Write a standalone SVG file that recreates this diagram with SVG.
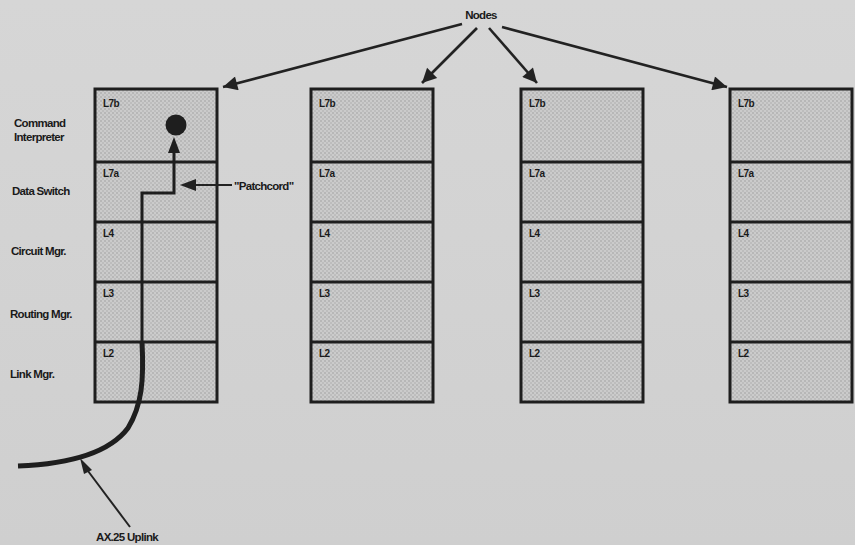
<svg xmlns="http://www.w3.org/2000/svg" width="855" height="545" viewBox="0 0 855 545">
<defs>
<pattern id="dots" width="4" height="4" patternUnits="userSpaceOnUse">
<rect width="4" height="4" fill="#cbcbcb"/>
<circle cx="1" cy="1" r="0.7" fill="#959595"/>
<circle cx="3" cy="3" r="0.7" fill="#a4a4a4"/>
</pattern>
<linearGradient id="bg" x1="0" y1="0" x2="0" y2="1">
<stop offset="0" stop-color="#d6d6d6"/>
<stop offset="1" stop-color="#cfcfcf"/>
</linearGradient>
<marker id="ah" viewBox="0 0 10 10" refX="10" refY="5" markerWidth="6" markerHeight="5.5" orient="auto" markerUnits="strokeWidth">
<path d="M0,0 L10,5 L0,10 z" fill="#222"/>
</marker>
</defs>
<style>
.box{fill:url(#dots);stroke:#1e1e1e;stroke-width:3}
.div{stroke:#1e1e1e;stroke-width:3}
.lay{font-family:"Liberation Sans",Arial,sans-serif;font-size:10px;font-weight:bold;fill:#1a1a1a;letter-spacing:-0.6px}
.lbl{font-family:"Liberation Sans",Arial,sans-serif;font-size:11.5px;font-weight:bold;fill:#1a1a1a;letter-spacing:-0.7px}
.arr{stroke:#222;stroke-width:2.6;fill:none;marker-end:url(#ah)}
</style>
<rect width="855" height="545" fill="url(#bg)"/>

<g id="labels">
<text class="lbl" x="14" y="127">Command</text>
<text class="lbl" x="14" y="141">Interpreter</text>
<text class="lbl" x="12" y="195">Data Switch</text>
<text class="lbl" x="11" y="255">Circuit Mgr.</text>
<text class="lbl" x="10" y="318">Routing Mgr.</text>
<text class="lbl" x="10" y="378">Link Mgr.</text>
<text class="lbl" x="481" y="19" text-anchor="middle">Nodes</text>
<text class="lbl" x="234" y="190">"Patchcord"</text>
<text class="lbl" x="127" y="541" text-anchor="middle">AX.25 Uplink</text>
</g>

<g id="node1">
<rect class="box" x="95" y="89" width="122" height="313"/>
<line class="div" x1="95" y1="162" x2="217" y2="162"/>
<line class="div" x1="95" y1="222" x2="217" y2="222"/>
<line class="div" x1="95" y1="282" x2="217" y2="282"/>
<line class="div" x1="95" y1="342" x2="217" y2="342"/>
<text class="lay" x="103" y="107">L7b</text>
<text class="lay" x="103" y="177">L7a</text>
<text class="lay" x="103" y="237">L4</text>
<text class="lay" x="103" y="297">L3</text>
<text class="lay" x="103" y="357">L2</text>
</g>

<g id="node2">
<rect class="box" x="311" y="89" width="122" height="313"/>
<line class="div" x1="311" y1="162" x2="433" y2="162"/>
<line class="div" x1="311" y1="222" x2="433" y2="222"/>
<line class="div" x1="311" y1="282" x2="433" y2="282"/>
<line class="div" x1="311" y1="342" x2="433" y2="342"/>
<text class="lay" x="319" y="107">L7b</text>
<text class="lay" x="319" y="177">L7a</text>
<text class="lay" x="319" y="237">L4</text>
<text class="lay" x="319" y="297">L3</text>
<text class="lay" x="319" y="357">L2</text>
</g>

<g id="node3">
<rect class="box" x="521" y="89" width="122" height="313"/>
<line class="div" x1="521" y1="162" x2="643" y2="162"/>
<line class="div" x1="521" y1="222" x2="643" y2="222"/>
<line class="div" x1="521" y1="282" x2="643" y2="282"/>
<line class="div" x1="521" y1="342" x2="643" y2="342"/>
<text class="lay" x="529" y="107">L7b</text>
<text class="lay" x="529" y="177">L7a</text>
<text class="lay" x="529" y="237">L4</text>
<text class="lay" x="529" y="297">L3</text>
<text class="lay" x="529" y="357">L2</text>
</g>

<g id="node4">
<rect class="box" x="730" y="89" width="122" height="313"/>
<line class="div" x1="730" y1="162" x2="852" y2="162"/>
<line class="div" x1="730" y1="222" x2="852" y2="222"/>
<line class="div" x1="730" y1="282" x2="852" y2="282"/>
<line class="div" x1="730" y1="342" x2="852" y2="342"/>
<text class="lay" x="738" y="107">L7b</text>
<text class="lay" x="738" y="177">L7a</text>
<text class="lay" x="738" y="237">L4</text>
<text class="lay" x="738" y="297">L3</text>
<text class="lay" x="738" y="357">L2</text>
</g>

<g id="connectors">
<path class="arr" d="M462,24 L223,87"/>
<path class="arr" d="M477,28 L422,83"/>
<path class="arr" d="M489,28 L537,83"/>
<path class="arr" d="M502,27 L727,87"/>
<path d="M142,342 L142,193 L174,193 L174,150" fill="none" stroke="#1e1e1e" stroke-width="3"/>
<path d="M168,153 L174,137 L180,153 z" fill="#1e1e1e"/>
<circle cx="176" cy="125" r="10.5" fill="#1e1e1e"/>
<path d="M232,185 L195,185" stroke="#222" stroke-width="2.2"/>
<path d="M196,179 L180,185 L196,191 z" fill="#222"/>
<path d="M142,342 C144,380 142,405 128,428 C110,452 70,464 18,466" fill="none" stroke="#1e1e1e" stroke-width="5"/>
<path d="M130,527 L85,467" stroke="#222" stroke-width="2"/>
<path d="M80,458 L92,470 L84,474 z" fill="#222"/>
</g>
</svg>
